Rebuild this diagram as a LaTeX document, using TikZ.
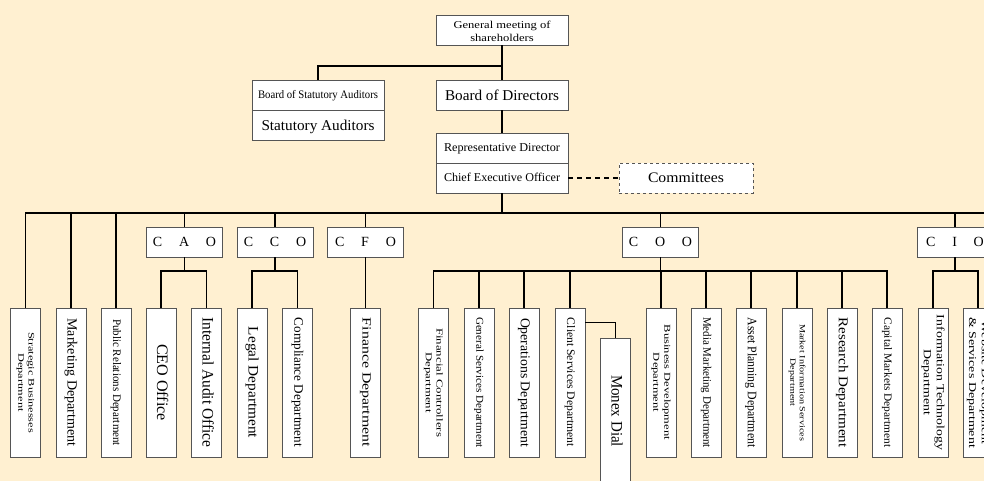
\documentclass[tikz,border=0pt]{standalone}
\usepackage{fontspec}
\setmainfont{Liberation Serif}
\usepackage{graphicx}
\definecolor{paper}{RGB}{255,240,209}
\definecolor{rim}{RGB}{85,85,85}
% text squeezed or stretched to a given length, height kept
\newcommand{\fitto}[3]{\resizebox{#1pt}{\height}{\fontsize{#2}{\dimexpr #2pt*6/5\relax}\selectfont\begin{tabular}{@{}c@{}}#3\end{tabular}}}
\newcommand{\dlabel}[3]{\rotatebox{-90}{\fitto{#1}{#2}{#3}}}
\newcommand{\nudge}[2]{\raisebox{-#1pt}[\height][\depth]{#2}}
\newcommand{\wide}[1]{{\fontsize{14}{14}\selectfont\spaceskip=1.2em #1}}

\tikzset{
  box/.style={draw=rim, line width=0.9pt, fill=white, inner sep=0pt,
    minimum width=132pt, minimum height=30pt},
  cxo/.style={box, minimum width=76pt},
  dept/.style={box, minimum width=30pt, minimum height=149pt},
  link/.style={line width=1.7pt, black}
}

\begin{document}
\begin{tikzpicture}[x=1pt,y=-1pt]
  \useasboundingbox (0,0) rectangle (984,481);
  \clip (0,0) rectangle (984,481);
  \fill[paper] (0,0) rectangle (984,481);

  % top of the tree
  \node[box] (gm) at (502,30) {\nudge{2.5}{\fitto{97}{10.5}{General meeting of\\shareholders}}};
  \node[box] (bod) at (502,95) {\nudge{1.5}{\fitto{114}{15}{Board of Directors}}};
  \node[box] (bsa) at (318,95) {\nudge{1}{\fitto{120}{11.5}{Board of Statutory Auditors}}};
  \node[box] (sa) at (318,125) {\nudge{1.5}{\fitto{113}{15}{Statutory Auditors}}};
  \node[box] (rep) at (502,148) {\nudge{1}{\fitto{116}{12}{Representative Director}}};
  \node[box] (ceo) at (502,178) {\nudge{1}{\fitto{116}{12}{Chief Executive Officer}}};
  \node[box, dashed, minimum width=134pt] (comm) at (686,178) {\nudge{1.5}{\fitto{76}{14.5}{Committees}}};
  \coordinate (j1) at (502,66);
  \coordinate (busR) at (984,213);

  \draw[link] (gm.south) -- (bod.north);
  \draw[link] (bsa.north) |- (j1);
  \draw[link] (bod.south) -- (rep.north);
  \draw[link, dash pattern=on 5pt off 4pt] (ceo.east) -- (comm.west);
  \draw[link] (ceo.south) -- (ceo.south |- busR);

  % officers
  \node[cxo] (cao) at (184.5,242) {\wide{C A O}};
  \node[cxo] (cco) at (275,242) {\wide{C C O}};
  \node[cxo] (cfo) at (365.5,242) {\wide{C F O}};
  \node[cxo] (coo) at (660.5,242) {\wide{C O O}};
  \node[cxo] (cio) at (955,242) {\wide{C I O}};

  % departments
  \node[dept] (strat) at (25.5,382.5) {\dlabel{101}{8.5}{Strategic Businesses\\Department}};
  \node[dept] (mkt) at (71,382.5) {\dlabel{128}{14}{Marketing Department}};
  \node[dept] (pr) at (116,382.5) {\dlabel{127}{11.5}{Public Relations Department}};
  \node[dept] (ceoff) at (161,382.5) {\dlabel{77}{16}{CEO Office}};
  \node[dept] (iao) at (206.5,382.5) {\dlabel{130}{16}{Internal Audit Office}};
  \node[dept] (legal) at (252,382.5) {\dlabel{111}{14.5}{Legal Department}};
  \node[dept] (compl) at (297.5,382.5) {\dlabel{129}{13}{Compliance Department}};
  \node[dept] (fin) at (365.5,382.5) {\dlabel{129}{12.5}{Finance Department}};
  \node[dept] (fc) at (433.5,382.5) {\dlabel{109}{9}{Financial Controllers\\Department}};
  \node[dept] (gs) at (479,382.5) {\dlabel{131}{10.5}{General Services Department}};
  \node[dept] (ops) at (524,382.5) {\dlabel{129}{13.5}{Operations Department}};
  \node[dept] (cs) at (570,382.5) {\dlabel{129}{11.5}{Client Services Department}};
  \node[dept, minimum height=146pt] (monex) at (615.5,411) {\dlabel{72}{16}{Monex Dial}};
  \node[dept] (bd) at (661,382.5) {\dlabel{115}{9}{Business Development\\Department}};
  \node[dept] (mm) at (706,382.5) {\dlabel{131}{11.5}{Media Marketing Department}};
  \node[dept] (ap) at (751,382.5) {\dlabel{130}{13}{Asset Planning Department}};
  \node[dept] (mis) at (797,382.5) {\dlabel{117}{8}{Market Information Services\\Department}};
  \node[dept] (res) at (842,382.5) {\dlabel{130}{13.5}{Research Department}};
  \node[dept] (cap) at (887,382.5) {\dlabel{130}{11}{Capital Markets Department}};
  \node[dept] (it) at (933,382.5) {\dlabel{135}{11}{Information Technology\\Department}};
  \node[dept] (web) at (978,382.5) {\dlabel{131}{10.5}{Website Development\\\& Services Department}};

  % main bus
  \draw[link] (strat.north) |- (busR);
  \foreach \n in {mkt,pr,cao,cco,cfo,coo,cio}
    \draw[link] (\n.north) -- (\n.north |- busR);

  % sub groups
  \coordinate (subA) at (184.5,271);
  \coordinate (subB) at (275,271);
  \coordinate (subC) at (660.5,271);
  \coordinate (subD) at (955,271);
  \draw[link] (cao.south) -- (subA);
  \draw[link] (ceoff.north) |- (subA) -| (iao.north);
  \draw[link] (cco.south) -- (subB);
  \draw[link] (legal.north) |- (subB) -| (compl.north);
  \draw[link] (cfo.south) -- (fin.north);
  \draw[link] (coo.south) -- (subC);
  \draw[link] (fc.north) |- (subC) -| (cap.north);
  \foreach \n in {gs,ops,cs,bd,mm,ap,mis,res}
    \draw[link] (\n.north) -- (\n.north |- subC);
  \draw[link] (cs.north east) ++(0,15) -| (monex.north);
  \draw[link] (cio.south) -- (subD);
  \draw[link] (it.north) |- (subD) -| (web.north);
\end{tikzpicture}
\end{document}
